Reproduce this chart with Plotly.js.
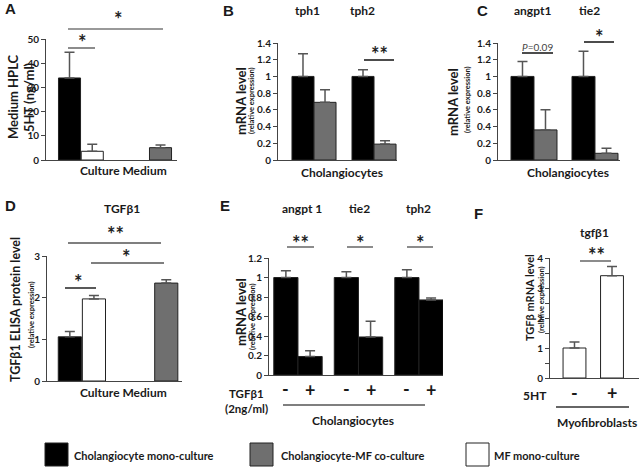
<!DOCTYPE html>
<html><head><meta charset="utf-8">
<script src="https://cdn.plot.ly/plotly-3.0.1.min.js"></script>
<style>html,body{margin:0;padding:0;background:#fff}#chart{width:640px;height:467px}</style>
</head><body><div id="chart"></div>
<script>
// ---------- DATA ----------
// Panel A: medium 5HT (HPLC), ng/ml  (gap entries keep the spacing of the original)
const A_categories = ['Cholangiocyte mono-culture', 'MF mono-culture', 'gap1', 'gap2', 'Cholangiocyte-MF co-culture'];
const A_groups = ['mono', 'mf', null, null, 'co'];
const A_values = [33.9, 3.6, null, null, 5.1];
const A_errors = [10.6, 2.9, null, null, 1.1];

// Panel B: tph1 / tph2 mRNA in cholangiocytes
const B_genes = ['tph1', 'tph2'];
const B_mono = [1.0, 1.0];
const B_mono_err = [0.27, 0.08];
const B_co = [0.69, 0.19];
const B_co_err = [0.15, 0.04];

// Panel C: angpt1 / tie2 mRNA in cholangiocytes
const C_genes = ['angpt1', 'tie2'];
const C_mono = [1.0, 1.0];
const C_mono_err = [0.18, 0.30];
const C_co = [0.36, 0.08];
const C_co_err = [0.24, 0.06];

// Panel D: TGFb1 ELISA protein
const D_categories = ['Cholangiocyte mono-culture', 'MF mono-culture', 'gap1', 'gap2', 'Cholangiocyte-MF co-culture'];
const D_groups = ['mono', 'mf', null, null, 'co'];
const D_values = [1.06, 1.97, null, null, 2.35];
const D_errors = [0.13, 0.08, null, null, 0.08];

// Panel E: TGFb1 (2ng/ml) treatment of cholangiocytes
const E_genes = ['angpt 1', 'tie2', 'tph2'];
const E_minus = [1.0, 1.0, 1.0];
const E_minus_err = [0.07, 0.06, 0.08];
const E_plus = [0.19, 0.39, 0.77];
const E_plus_err = [0.06, 0.16, 0.02];

// Panel F: 5HT treatment of myofibroblasts, tgfb1 mRNA
const F_treatment = ['-', '+'];
const F_values = [1.0, 3.41];
const F_errors = [0.20, 0.31];

// ---------- STYLE ----------
const W = 640, H = 467;
const FONT = 'Lato, Carlito, Calibri, "Open Sans", sans-serif';
const COL = {mono: '#000000', co: '#6f6f6f', mf: '#ffffff'};
const EDGE = '#222';
const ERRC = '#555';
const px = x => x / W;
const py = y => 1 - y / H;

function errSpec(arr) {
  return {type: 'data', symmetric: false, array: arr, arrayminus: arr.map(() => 0),
          color: ERRC, thickness: 1.5, width: 5, visible: true};
}

const traces = [];
// A
traces.push({type: 'bar', x: A_categories, y: A_values, xaxis: 'x', yaxis: 'y', width: 0.97,
  marker: {color: A_groups.map(g => g ? COL[g] : '#fff'), line: {color: EDGE, width: 1}},
  error_y: errSpec(A_errors.map(v => v || 0)), showlegend: false});
// B
traces.push({type: 'bar', x: B_genes, y: B_mono, xaxis: 'x2', yaxis: 'y2', width: 0.367, offset: -0.367,
  marker: {color: COL.mono, line: {color: EDGE, width: 1}}, error_y: errSpec(B_mono_err), showlegend: false});
traces.push({type: 'bar', x: B_genes, y: B_co, xaxis: 'x2', yaxis: 'y2', width: 0.367, offset: 0,
  marker: {color: COL.co, line: {color: EDGE, width: 1}}, error_y: errSpec(B_co_err), showlegend: false});
// C
traces.push({type: 'bar', x: C_genes, y: C_mono, xaxis: 'x3', yaxis: 'y3', width: 0.377, offset: -0.377,
  marker: {color: COL.mono, line: {color: EDGE, width: 1}}, error_y: errSpec(C_mono_err), showlegend: false});
traces.push({type: 'bar', x: C_genes, y: C_co, xaxis: 'x3', yaxis: 'y3', width: 0.377, offset: 0,
  marker: {color: COL.co, line: {color: EDGE, width: 1}}, error_y: errSpec(C_co_err), showlegend: false});
// D
traces.push({type: 'bar', x: D_categories, y: D_values, xaxis: 'x4', yaxis: 'y4', width: 0.96,
  marker: {color: D_groups.map(g => g ? COL[g] : '#fff'), line: {color: EDGE, width: 1}},
  error_y: errSpec(D_errors.map(v => v || 0)), showlegend: false});
// E
traces.push({type: 'bar', x: E_genes, y: E_minus, xaxis: 'x5', yaxis: 'y5', width: 0.4, offset: -0.4,
  marker: {color: COL.mono, line: {color: EDGE, width: 1}}, error_y: errSpec(E_minus_err), showlegend: false});
traces.push({type: 'bar', x: E_genes, y: E_plus, xaxis: 'x5', yaxis: 'y5', width: 0.4, offset: 0,
  marker: {color: COL.mono, line: {color: EDGE, width: 1}}, error_y: errSpec(E_plus_err), showlegend: false});
// F
traces.push({type: 'bar', x: F_treatment, y: F_values, xaxis: 'x6', yaxis: 'y6', width: 0.61,
  marker: {color: COL.mf, line: {color: EDGE, width: 1}}, error_y: errSpec(F_errors), showlegend: false});

const tickFont = {family: FONT, size: 10, color: '#1a1a1a', weight: 'bold'};
function xax(dom, anchor, range) {
  return {domain: [px(dom[0]), px(dom[1])], anchor: anchor, type: 'category', range: range,
    showline: true, linecolor: '#444', linewidth: 1, ticks: '', showticklabels: false,
    showgrid: false, zeroline: false, fixedrange: true};
}
function yax(dom, anchor, range, dtick, extra) {
  return Object.assign({domain: [py(dom[1]), py(dom[0])], anchor: anchor, range: range, dtick: dtick,
    showline: true, linecolor: '#444', linewidth: 1, ticks: 'outside', ticklen: 4, tickcolor: '#444',
    tickfont: tickFont, showgrid: false, zeroline: false, fixedrange: true}, extra || {});
}

const layout = {
  width: W, height: H, margin: {l: 0, r: 0, t: 0, b: 0},
  paper_bgcolor: '#fff', plot_bgcolor: 'rgba(0,0,0,0)', barmode: 'overlay',
  font: {family: FONT, size: 11, color: '#1a1a1a'},
  xaxis: xax([46, 177], 'y', [-1.033, 4.725]),
  yaxis: yax([39, 160], 'x', [0, 50], 10),
  xaxis2: xax([278, 397], 'y2', [-0.6, 1.383]),
  yaxis2: yax([43, 160], 'x2', [0, 1.4], 0.2),
  xaxis3: xax([498, 620], 'y3', [-0.59, 1.41]),
  yaxis3: yax([43, 160], 'x3', [0, 1.4], 0.2),
  xaxis4: xax([47, 182], 'y4', [-0.947, 4.653]),
  yaxis4: yax([256, 381], 'x4', [0, 3], 1),
  xaxis5: xax([269, 443], 'y5', [-0.479, 2.397]),
  yaxis5: yax([258, 375], 'x5', [0, 1.2], 0.2),
  xaxis6: xax([550, 639], 'y6', [-0.653, 1.72]),
  yaxis6: yax([258, 378], 'x6', [0, 4], 1, {minor: {dtick: 0.5, ticks: 'outside', ticklen: 4, tickcolor: '#444'}}),
  annotations: [], shapes: []
};

function ann(text, x, y, o) {
  o = o || {};
  layout.annotations.push({xref: 'paper', yref: 'paper', x: px(x), y: py(y), text: text, showarrow: false,
    xanchor: o.xanchor || 'center', yanchor: 'middle', textangle: o.angle || 0,
    font: {family: o.family || FONT, size: o.size || 12, color: o.color || '#1a1a1a', weight: o.weight || 'bold'}});
}
function hline(x0, x1, y, color) {
  layout.shapes.push({type: 'line', xref: 'paper', yref: 'paper', x0: px(x0), x1: px(x1), y0: py(y), y1: py(y),
    line: {color: color || '#333', width: 1.5}});
}
function star(text, x, y) { ann(text, x, y + 5, {size: 20, color: '#222'}); }
function axisLabel(axis, x, y, text) {
  layout.annotations.push({xref: axis, yref: 'paper', x: x, y: py(y), text: text, showarrow: false,
    xanchor: 'center', yanchor: 'middle',
    font: {family: FONT, size: 18, weight: 'bold', color: '#1a1a1a'}});
}

// panel letters
const LETTER = {family: '"Liberation Sans", Arial, sans-serif', size: 15};
ann('A', 10, 8, LETTER); ann('B', 228, 10, LETTER); ann('C', 482, 10, LETTER);
ann('D', 10, 205, LETTER); ann('E', 225, 205, LETTER); ann('F', 478, 213, LETTER);

// gene labels
ann('tph1', 307, 10); ann('tph2', 362, 10);
ann('angpt1', 532, 10); ann('tie2', 589, 10);
ann('TGFβ1', 122, 208);
ann('angpt 1', 302, 208); ann('tie2', 359, 208); ann('tph2', 418, 208);
ann('tgfβ1', 594, 232);

// y titles
ann('Medium HPLC', 13, 97, {angle: -90, size: 13});
ann('5HT (ng/ml)', 29, 97, {angle: -90, size: 13});
ann('mRNA level', 241, 101, {angle: -90, size: 13});
ann('(relative expression)', 252, 101, {angle: -90, size: 7.5});
ann('mRNA level', 453, 102, {angle: -90, size: 13});
ann('(relative expression)', 467, 100, {angle: -90, size: 7.5});
ann('TGFβ1 ELISA protein level', 15, 310, {angle: -90, size: 12.5});
ann('(relative expression)', 31, 315, {angle: -90, size: 7.5});
ann('mRNA level', 241, 312, {angle: -90, size: 13});
ann('(relative expression)', 252, 317, {angle: -90, size: 7.5});
ann('TGFβ mRNA level', 529, 298, {angle: -90, size: 11});
ann('(relative expression)', 541, 300, {angle: -90, size: 7.5});

// x titles
ann('Culture Medium', 123, 170);
ann('Cholangiocytes', 342, 172);
ann('Cholangiocytes', 568, 172);
ann('Culture Medium', 123, 392);

// E treatment labels (under each bar)
E_genes.forEach((g, i) => { axisLabel('x5', i - 0.2, 389, '-'); axisLabel('x5', i + 0.2, 390, '+'); });
ann('TGFβ1', 246, 393, {size: 11.5}); ann('(2ng/ml)', 246, 408, {size: 11.5});
hline(283, 425, 405, '#555');
ann('Cholangiocytes', 353, 420);

// F treatment labels
F_treatment.forEach((t, i) => axisLabel('x6', i, 393, t));
ann('5HT', 535, 395);
hline(556, 629, 407, '#333');
ann('Myofibroblasts', 597, 422);

// significance
hline(68, 95, 48, '#666'); star('*', 82, 37);
hline(68, 163, 29, '#777'); star('*', 118, 14);
hline(364, 394, 60, '#111'); star('**', 379, 49);
hline(522, 553, 53, '#111'); ann('<i>P</i>=0.09', 537, 47, {size: 10, weight: 'normal', color: '#444'});
hline(584, 614, 42, '#111'); star('*', 599, 32);
hline(65, 96, 288, '#222'); star('*', 78, 277);
hline(91, 164, 263, '#555'); star('*', 126, 252);
hline(68, 161, 243, '#555'); star('**', 115, 229);
hline(287, 314, 247, '#666'); star('**', 300, 238);
hline(347, 373, 247, '#666'); star('*', 360, 238);
hline(407, 433, 247, '#666'); star('*', 420, 238);
hline(580, 611, 261, '#666'); star('**', 596, 250);

// legend
function legendBox(x0, color, label, tx) {
  layout.shapes.push({type: 'rect', xref: 'paper', yref: 'paper', x0: px(x0), x1: px(x0 + 23), y0: py(466), y1: py(443),
    fillcolor: color, line: {color: '#222', width: 1}});
  ann(label, tx, 455, {xanchor: 'left', size: 11});
}
legendBox(45, COL.mono, 'Cholangiocyte mono-culture', 72);
legendBox(250, COL.co, 'Cholangiocyte-MF co-culture', 279);
legendBox(466, COL.mf, 'MF mono-culture', 492);

Plotly.newPlot('chart', traces, layout, {displayModeBar: false, staticPlot: true});
</script>
</body></html>
